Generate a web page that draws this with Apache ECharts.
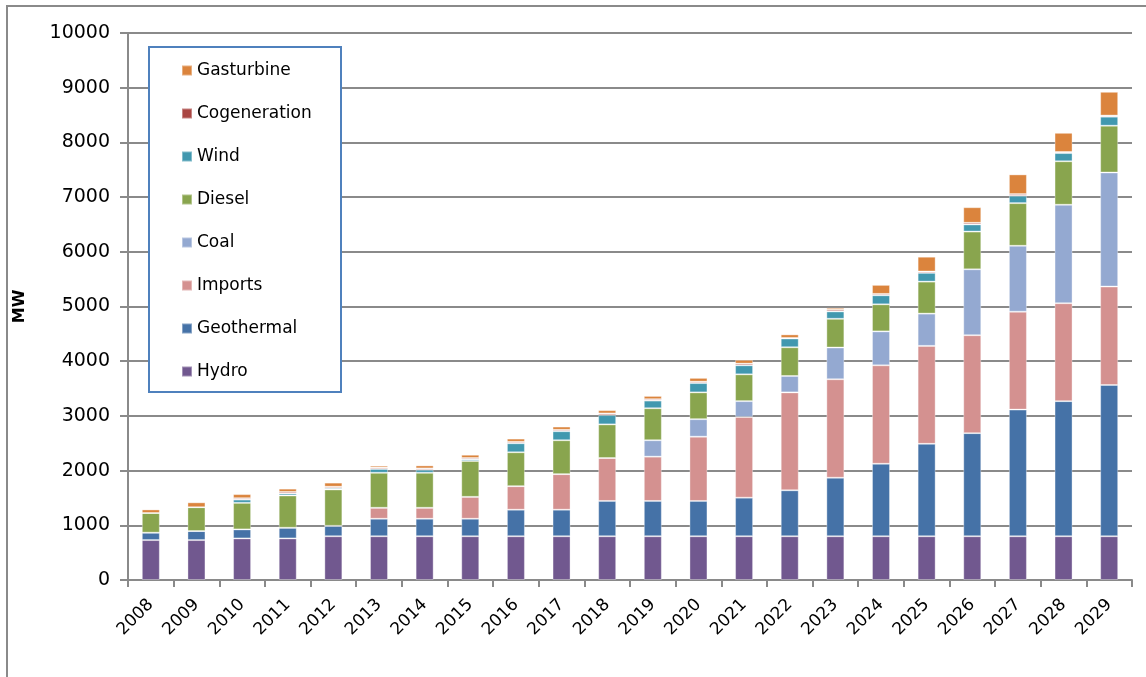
<!DOCTYPE html>
<html>
<head>
<meta charset="utf-8">
<script src="https://cdn.jsdelivr.net/npm/echarts@6/dist/echarts.min.js"></script>
<style>html,body{margin:0;padding:0;background:#fff}#c{width:1146px;height:677px}</style>
</head>
<body>
<div id="c"></div>
<script>
const years = ['2008','2009','2010','2011','2012','2013','2014','2015','2016','2017','2018','2019','2020','2021','2022','2023','2024','2025','2026','2027','2028','2029'];
const hydro        = [730,730,760,760,800,800,800,800,800,800,800,800,800,800,800,800,800,800,800,800,800,800];
const geothermal   = [135,165,165,195,190,320,320,320,485,485,645,645,645,705,840,1070,1325,1690,1885,2315,2470,2765];
const imports      = [0,0,0,0,0,200,200,400,430,650,785,810,1175,1475,1790,1800,1800,1790,1790,1790,1790,1800];
const coal         = [0,0,0,0,0,0,0,0,0,0,0,300,320,290,300,580,620,590,1205,1205,1800,2085];
const diesel       = [360,435,485,590,665,640,640,655,620,620,615,585,490,490,525,525,495,585,690,780,795,855];
const wind         = [0,0,60,35,25,70,55,30,165,165,170,140,170,165,160,135,165,160,130,135,150,165];
const cogeneration = [0,0,25,30,25,25,25,25,25,25,30,25,25,30,10,30,25,25,30,30,20,20];
const gasturbine   = [65,90,75,60,75,35,55,60,60,60,60,60,70,70,65,35,165,270,285,360,350,435];
const yTicks = {min:0, max:10000, interval:1000};

const seriesDefs = [
  ['Hydro', hydro, '#71588f'],
  ['Geothermal', geothermal, '#4572a7'],
  ['Imports', imports, '#d49190'],
  ['Coal', coal, '#94a9d1'],
  ['Diesel', diesel, '#89a54e'],
  ['Wind', wind, '#4198af'],
  ['Cogeneration', cogeneration, '#aa4643'],
  ['Gasturbine', gasturbine, '#db843d']
];

const chart = echarts.init(document.getElementById('c'), null, {renderer:'canvas'});
const gray = '#8a8a8a';
chart.setOption({
  animation: false,
  backgroundColor: '#ffffff',
  textStyle: {fontFamily: 'DejaVu Sans'},
  graphic: [{
    type: 'rect', silent: true, z: -1,
    shape: {x: 7, y: 6, width: 1300, height: 900},
    style: {fill: 'none', stroke: gray, lineWidth: 2}
  }, {
    type: 'rect', silent: true, z: 5,
    shape: {x: 149, y: 47, width: 192, height: 345},
    style: {fill: '#fff', stroke: '#4f81bd', lineWidth: 2}
  }],
  grid: {left: 128, right: 14, top: 33, bottom: 97, containLabel: false},
  legend: {
    orient: 'vertical',
    left: 171, top: 54,
    z: 10,
    padding: [8, 10, 8, 10],
    itemGap: 26,
    itemWidth: 10, itemHeight: 10,
    icon: 'rect',
    textStyle: {fontSize: 17, color: '#000', fontFamily: 'DejaVu Sans', padding: [0,0,0,0]},
    data: seriesDefs.map(s => s[0]).reverse()
  },
  xAxis: {
    type: 'category',
    data: years,
    axisLine: {lineStyle: {color: gray, width: 2}},
    axisTick: {show: true, alignWithLabel: false, length: 7, lineStyle: {color: gray, width: 2}},
    axisLabel: {rotate: 45, fontSize: 17, color: '#000', margin: 22, interval: 0}
  },
  yAxis: {
    type: 'value',
    min: yTicks.min, max: yTicks.max, interval: yTicks.interval,
    name: 'MW', nameLocation: 'middle', nameRotate: 90, nameGap: 100,
    nameTextStyle: {fontSize: 16, fontWeight: 'bold', color: '#000'},
    axisLine: {show: true, lineStyle: {color: gray, width: 2}},
    axisTick: {show: true, length: 8, lineStyle: {color: gray, width: 2}},
    axisLabel: {fontSize: 19, color: '#000', margin: 18, formatter: v => String(v)},
    splitLine: {lineStyle: {color: gray, width: 2}}
  },
  series: seriesDefs.map(s => ({
    name: s[0], type: 'bar', stack: 'total', data: s[1], barWidth: 18,
    itemStyle: {color: s[2], borderColor: 'rgba(255,255,255,0.35)', borderWidth: 1}
  }))
});
</script>
</body>
</html>
